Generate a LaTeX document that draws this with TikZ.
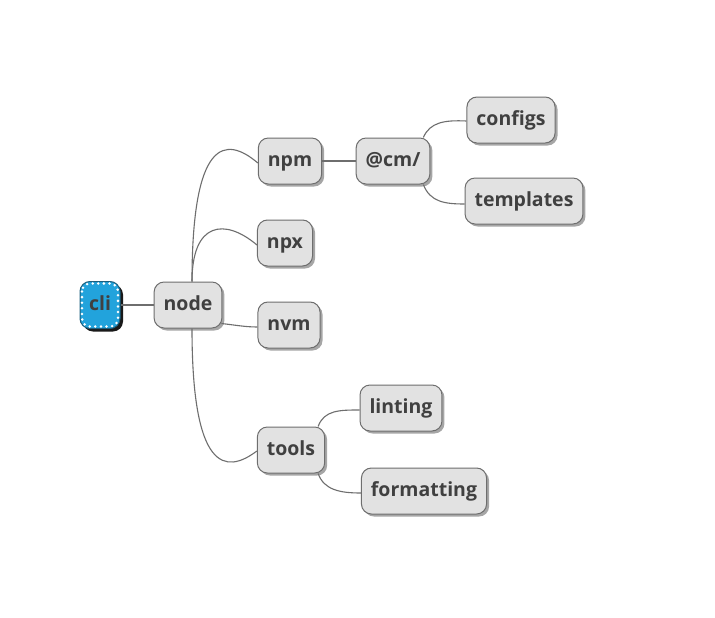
\documentclass[tikz,border=0pt]{standalone}
\usepackage{fontspec}
\setmainfont{Open Sans}
\usetikzlibrary{shadows}
\definecolor{boxfill}{HTML}{E2E2E2}
\definecolor{boxline}{HTML}{6E6E6E}
\definecolor{txt}{HTML}{404040}
\definecolor{cliblue}{HTML}{22A3DC}
\definecolor{clidark}{HTML}{1B5F7E}
\begin{document}
\begin{tikzpicture}[x=1pt,y=-1pt,
  mmbox/.style={draw=boxline, line width=1pt, fill=boxfill, rounded corners=10pt,
    minimum height=46pt, inner xsep=9.5pt, inner ysep=0pt, text height=15pt, text depth=4pt,
    font=\fontsize{19.5pt}{22pt}\selectfont\bfseries, text=txt,
    drop shadow={shadow xshift=2.5pt, shadow yshift=-2.5pt, opacity=0.35, fill=black}},
  clibox/.style={draw=clidark, line width=1pt, fill=cliblue, rounded corners=10pt,
    minimum height=47pt, minimum width=40pt, inner sep=0pt, text height=15pt, text depth=4pt,
    font=\fontsize{19.5pt}{22pt}\selectfont\bfseries, text=txt,
    drop shadow={shadow xshift=3pt, shadow yshift=-3pt, opacity=0.9, fill=black}},
  link/.style={draw=boxline, line width=1.1pt}]
\useasboundingbox (0,0) rectangle (715,618);
\fill[white] (0,0) rectangle (715,618);

\node[clibox] (cli) at (100,305) {cli};
\draw[white, line width=2.8pt, dash pattern=on 0pt off 5.6pt, line cap=round, rounded corners=8pt]
  ([xshift=2.5pt,yshift=-2.5pt]cli.north west) rectangle ([xshift=-2.5pt,yshift=2.5pt]cli.south east);

\node[mmbox] (node) at (188,305) {node};
\node[mmbox] (npm) at (290,161) {npm};
\node[mmbox] (cm) at (393,161) {@cm/};
\node[mmbox] (configs) at (511,120) {configs};
\node[mmbox] (templates) at (524,201) {templates};
\node[mmbox] (npx) at (285,243) {npx};
\node[mmbox] (nvm) at (289,325) {nvm};
\node[mmbox] (tools) at (291,450) {tools};
\node[mmbox] (linting) at (401,408) {linting};
\node[mmbox] (formatting) at (424,491) {formatting};

\draw[link] (cli.east) -- (node.west);
\draw[link] ([xshift=4pt]node.north) .. controls +(0,-142) and (225,135) .. ([yshift=-2pt]npm.west);
\draw[link] ([xshift=4pt]node.north) .. controls +(0,-60) and (225,218) .. ([yshift=-2pt]npx.west);
\draw[link] ([xshift=-1pt,yshift=5pt]node.south east) .. controls (235,325) and (245,327) .. ([yshift=-2pt]nvm.west);
\draw[link] ([xshift=4pt]node.south) .. controls +(0,142) and (225,475) .. ([yshift=-1pt]tools.west);
\draw[link] (npm.east) -- (cm.west);
\draw[link] ([xshift=-7pt]cm.north east) .. controls (430,122) and (445,120) .. ([yshift=-1pt]configs.west);
\draw[link] ([xshift=-7pt]cm.south east) .. controls (430,202) and (445,204) .. ([yshift=-3pt]templates.west);
\draw[link] ([xshift=-7pt]tools.north east) .. controls (324,410) and (340,410) .. ([yshift=-2pt]linting.west);
\draw[link] ([xshift=-7pt]tools.south east) .. controls (324,490) and (340,493) .. ([yshift=-2pt]formatting.west);
\end{tikzpicture}
\end{document}
